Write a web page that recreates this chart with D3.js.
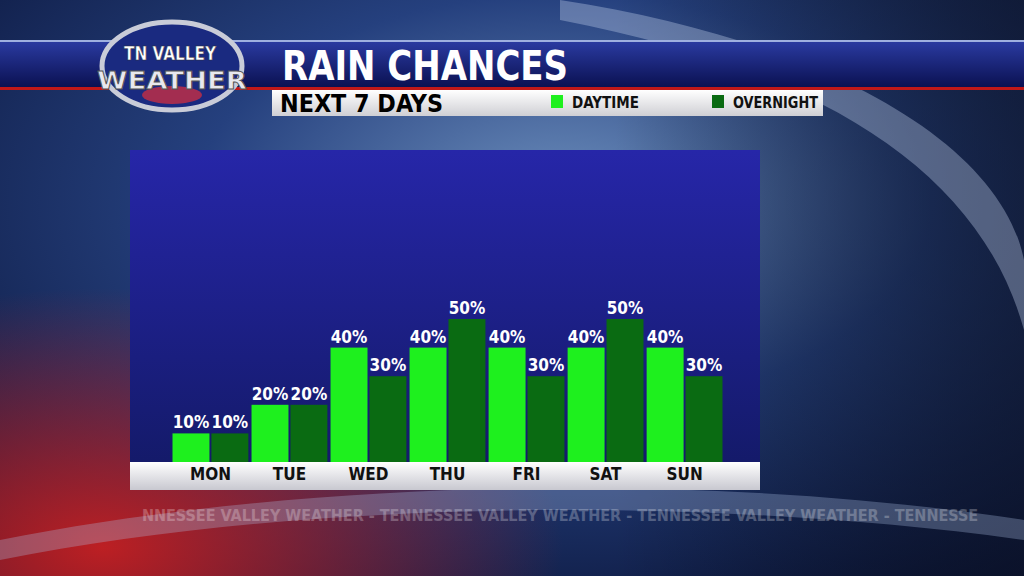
<!DOCTYPE html>
<html><head><meta charset="utf-8">
<script src="https://cdn.jsdelivr.net/npm/d3@7/dist/d3.min.js"></script>
<style>body{margin:0;background:#000}svg{display:block}</style>
</head><body>
<svg id="c" width="1024" height="576"></svg>
<script>
const days = ["MON","TUE","WED","THU","FRI","SAT","SUN"];
const daytime = [10,20,40,40,40,40,40];
const overnight = [10,20,30,50,30,50,30];
const seriesNames = ["DAYTIME","OVERNIGHT"];
const seriesColors = ["#1ef01e","#0a6b12"];

const svg = d3.select("#c");
const F = "'DejaVu Sans Condensed','Liberation Sans Narrow',Roboto,sans-serif";
const defs = svg.append("defs");
const bg = defs.append("radialGradient").attr("id","bg").attr("cx","0.55").attr("cy","0.35").attr("r","0.8");
bg.append("stop").attr("offset","0").attr("stop-color","#6d8fbd");
bg.append("stop").attr("offset","0.45").attr("stop-color","#25407e");
bg.append("stop").attr("offset","1").attr("stop-color","#0a1438");
svg.append("rect").attr("width",1024).attr("height",576).attr("fill","url(#bg)");
const red = defs.append("radialGradient").attr("id","red").attr("cx","0.1").attr("cy","0.95").attr("r","0.45");
red.append("stop").attr("offset","0").attr("stop-color","#d02020").attr("stop-opacity",0.9);
red.append("stop").attr("offset","1").attr("stop-color","#d02020").attr("stop-opacity",0);
svg.append("rect").attr("width",1024).attr("height",576).attr("fill","url(#red)");
const rightDark = defs.append("linearGradient").attr("id","rd").attr("x1",0).attr("x2",1);
rightDark.append("stop").attr("offset","0.6").attr("stop-color","#000").attr("stop-opacity",0);
rightDark.append("stop").attr("offset","1").attr("stop-color","#0b1020").attr("stop-opacity",0.6);
svg.append("rect").attr("width",1024).attr("height",576).attr("fill","url(#rd)");
svg.append("path").attr("d","M560,0 C820,40 1000,140 1024,260 L1024,330 C980,170 820,70 560,20Z").attr("fill","#c8d8f0").attr("opacity",0.35);
svg.append("path").attr("d","M0,540 C300,480 700,470 1024,520 L1024,540 C700,495 300,500 0,560Z").attr("fill","#b0c4e8").attr("opacity",0.3);

const hb = defs.append("linearGradient").attr("id","hb").attr("x1",0).attr("x2",0).attr("y1",0).attr("y2",1);
hb.append("stop").attr("offset","0").attr("stop-color","#2a3aa0");
hb.append("stop").attr("offset","1").attr("stop-color","#0a1050");
svg.append("rect").attr("x",0).attr("y",42).attr("width",1024).attr("height",46).attr("fill","url(#hb)");
svg.append("rect").attr("x",0).attr("y",40).attr("width",1024).attr("height",2).attr("fill","#9fb0e0");
svg.append("rect").attr("x",0).attr("y",87).attr("width",1024).attr("height",3).attr("fill","#c01818");
svg.append("ellipse").attr("cx",172).attr("cy",66).attr("rx",70).attr("ry",44).attr("fill","#1a2a80").attr("stroke","#c9ccd8").attr("stroke-width",5);
svg.append("ellipse").attr("cx",172).attr("cy",95).attr("rx",30).attr("ry",9).attr("fill","#ff3030").attr("opacity",0.6);
svg.append("text").attr("x",170).attr("y",60).attr("text-anchor","middle").attr("font-family",F).attr("font-weight","bold").attr("font-size",20).attr("textLength",92).attr("lengthAdjust","spacingAndGlyphs").attr("fill","#fff").attr("stroke","#333").attr("stroke-width",0.5).text("TN VALLEY");
svg.append("text").attr("x",172).attr("y",89).attr("text-anchor","middle").attr("font-family",F).attr("font-weight","bold").attr("font-size",24).attr("textLength",150).attr("lengthAdjust","spacingAndGlyphs").attr("fill","#e8e8ee").attr("stroke","#555").attr("stroke-width",0.8).text("WEATHER");
svg.append("text").attr("x",282).attr("y",80).attr("font-family",F).attr("font-weight","bold").attr("font-size",40).attr("textLength",286).attr("lengthAdjust","spacingAndGlyphs").attr("fill","#fff").text("RAIN CHANCES");
const sb = defs.append("linearGradient").attr("id","sb").attr("x1",0).attr("x2",0).attr("y1",0).attr("y2",1);
sb.append("stop").attr("offset","0").attr("stop-color","#ffffff");
sb.append("stop").attr("offset","1").attr("stop-color","#cfcfd4");
svg.append("rect").attr("x",272).attr("y",90).attr("width",551).attr("height",26).attr("fill","url(#sb)");
svg.append("text").attr("x",280).attr("y",112).attr("font-family",F).attr("font-weight","bold").attr("font-size",24).attr("textLength",163).attr("lengthAdjust","spacingAndGlyphs").attr("fill","#000").text("NEXT 7 DAYS");
const lx=[551,712], lw=[67,85];
seriesNames.forEach((n,i)=>{
  svg.append("rect").attr("x",lx[i]).attr("y",95).attr("width",12).attr("height",13).attr("fill",seriesColors[i]);
  svg.append("text").attr("x",lx[i]+21).attr("y",108).attr("font-family",F).attr("font-weight","bold").attr("font-size",15).attr("textLength",lw[i]).attr("lengthAdjust","spacingAndGlyphs").attr("fill","#111").text(n);
});

const pg = defs.append("linearGradient").attr("id","pg").attr("x1",0).attr("x2",0).attr("y1",0).attr("y2",1);
pg.append("stop").attr("offset","0").attr("stop-color","#2626a8");
pg.append("stop").attr("offset","1").attr("stop-color","#141a6a");
svg.append("rect").attr("x",130).attr("y",150).attr("width",630).attr("height",312).attr("fill","url(#pg)");
const sg = defs.append("linearGradient").attr("id","sg").attr("x1",0).attr("x2",0).attr("y1",0).attr("y2",1);
sg.append("stop").attr("offset","0").attr("stop-color","#ffffff");
sg.append("stop").attr("offset","1").attr("stop-color","#c8c8d0");
svg.append("rect").attr("x",130).attr("y",462).attr("width",630).attr("height",28).attr("fill","url(#sg)");

const x = d3.scaleBand().domain(days).range([172.5,722.5]).paddingInner(0.04).paddingOuter(0);
const xs = d3.scaleBand().domain([0,1]).range([0,x.bandwidth()]).paddingInner(0.05);
const y = d3.scaleLinear().domain([0,50]).range([462,319]);
const g = svg.append("g");
days.forEach((d,i)=>{
  [daytime[i],overnight[i]].forEach((v,s)=>{
    const bx = x(d)+xs(s);
    g.append("rect").attr("x",bx).attr("y",y(v)).attr("width",xs.bandwidth()).attr("height",y(0)-y(v)).attr("fill",seriesColors[s]);
    g.append("text").attr("x",bx+xs.bandwidth()/2).attr("y",y(v)-5).attr("text-anchor","middle")
      .attr("font-family",F).attr("font-weight","bold").attr("font-size",17).attr("fill","#fff").text(v+"%");
  });
});
const ax = svg.append("g").attr("transform","translate(0,462)").call(d3.axisBottom(x).tickSize(0).tickPadding(6));
ax.select(".domain").remove();
ax.selectAll("text").attr("font-family",F).attr("font-weight","bold").attr("font-size",17).attr("fill","#111");

svg.append("text").attr("x",560).attr("y",521).attr("text-anchor","middle").attr("font-family",F).attr("font-weight","bold").attr("font-size",16).attr("fill","#fff").attr("opacity",0.25).text("NNESSEE VALLEY WEATHER - TENNESSEE VALLEY WEATHER - TENNESSEE VALLEY WEATHER - TENNESSE");
</script>
</body></html>
